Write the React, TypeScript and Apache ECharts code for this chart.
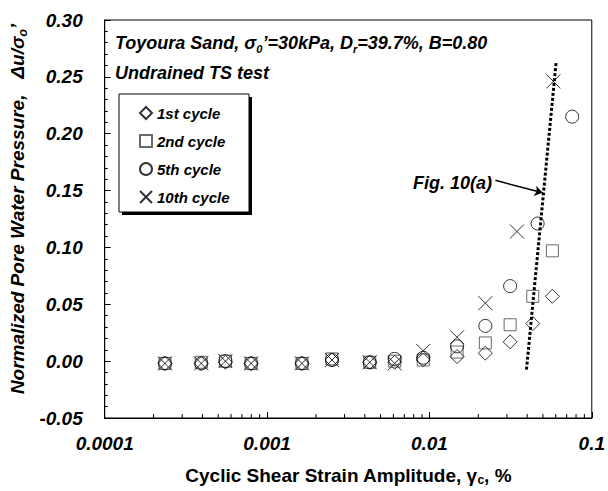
import React, { useEffect, useRef } from 'react';
import * as echarts from 'echarts';

// ---- data ----
const xTickLabels = ['0.0001', '0.001', '0.01', '0.1'];

const c1Strain = [0.000235, 0.000393, 0.000554, 0.000797, 0.00164, 0.00251, 0.00429, 0.00611, 0.00916, 0.0148, 0.0221, 0.0314, 0.0433, 0.0572];
const c1Pwp = [-0.002, -0.002, -0.001, -0.002, -0.002, 0.001, -0.001, -0.001, 0.001, 0.004, 0.007, 0.017, 0.033, 0.057];

const c2Strain = [0.000235, 0.000393, 0.000554, 0.000797, 0.00164, 0.00251, 0.00429, 0.00611, 0.00916, 0.0148, 0.0221, 0.0314, 0.0433, 0.0572];
const c2Pwp = [-0.002, -0.001, 0.000, -0.002, -0.002, 0.002, -0.001, 0.000, 0.001, 0.008, 0.016, 0.032, 0.057, 0.097];

const c5Strain = [0.000235, 0.000393, 0.000554, 0.000797, 0.00164, 0.00251, 0.00429, 0.00611, 0.00916, 0.0148, 0.0221, 0.0314, 0.0464, 0.0757];
const c5Pwp = [-0.002, -0.002, 0.000, -0.002, -0.002, 0.001, -0.001, 0.002, 0.003, 0.013, 0.031, 0.066, 0.121, 0.215];

const c10Strain = [0.000235, 0.000393, 0.000554, 0.000797, 0.00164, 0.00251, 0.00429, 0.00611, 0.00916, 0.0148, 0.0221, 0.0346, 0.058];
const c10Pwp = [-0.002, -0.002, 0.000, -0.002, -0.002, 0.001, -0.001, -0.002, 0.009, 0.021, 0.051, 0.114, 0.246];

const fig10aLine = [[0.0396, -0.0075], [0.0603, 0.263]];
const arrowCoords = [[0.0255, 0.159], [0.0498, 0.148]];

const minorDecades = [0.0001, 0.001, 0.01];
const minorMultipliers = [2, 3, 4, 5, 6, 7, 8, 9];

const FONT = "'Liberation Sans', Arial, Helvetica, sans-serif";

const zip = (xs: number[], ys: number[]) => xs.map((x, i) => [x, ys[i]]);

export default function App() {
  const ref = useRef<HTMLDivElement>(null);

  useEffect(() => {
    if (!ref.current) return;
    const chart = echarts.init(ref.current, undefined, { renderer: 'svg' });

    const minorTicks: number[][] = [];
    minorDecades.forEach((d) => minorMultipliers.forEach((m) => minorTicks.push([d * m])));

    const markerStyle = (c: string) => ({ color: 'rgba(0,0,0,0)', borderColor: c, borderWidth: 1 });

    const option: any = {
      animation: false,
      backgroundColor: '#fff',
      grid: { left: 98, right: 13, top: 20, bottom: 67, show: true, borderColor: '#000', borderWidth: 1, backgroundColor: 'rgba(0,0,0,0)' },
      xAxis: {
        type: 'log',
        logBase: 10,
        min: 0.0001,
        max: 0.1,
        name: '{t|Cyclic Shear Strain Amplitude, γ}{s|c}{t|, %}',
        nameLocation: 'middle',
        nameGap: 46,
        nameTextStyle: {
          rich: {
            t: { fontFamily: FONT, fontWeight: 'bold', fontSize: 19, color: '#000', lineHeight: 22 },
            s: { fontFamily: FONT, fontWeight: 'bold', fontSize: 12, color: '#000', lineHeight: 12, verticalAlign: 'bottom' },
          },
        },
        axisLine: { onZero: false, lineStyle: { color: '#000', width: 1 } },
        axisTick: { inside: true, length: 6, lineStyle: { color: '#000' } },
        splitLine: { show: false },
        axisLabel: {
          margin: 16,
          fontFamily: FONT,
          fontWeight: 'bold',
          fontStyle: 'italic',
          fontSize: 19,
          color: '#000',
          formatter: (v: number) => xTickLabels[Math.round(Math.log10(v)) + 4] ?? '',
        },
      },
      yAxis: {
        type: 'value',
        min: -0.05,
        max: 0.3,
        interval: 0.05,
        name: '{p|Normalized Pore Water Pressure,   Δu/σ}{s|o}{t|’}',
        nameLocation: 'middle',
        nameRotate: 90,
        nameGap: 65,
        nameTextStyle: {
          rich: {
            p: { fontFamily: FONT, fontWeight: 'bold', fontStyle: 'italic', fontSize: 19, color: '#000', lineHeight: 22, padding: [0, 0, 0, 20] },
            t: { fontFamily: FONT, fontWeight: 'bold', fontStyle: 'italic', fontSize: 19, color: '#000', lineHeight: 22 },
            s: { fontFamily: FONT, fontWeight: 'bold', fontStyle: 'italic', fontSize: 12, color: '#000', lineHeight: 12, verticalAlign: 'bottom' },
          },
        },
        axisLine: { show: true, onZero: false, lineStyle: { color: '#000', width: 1 } },
        axisTick: { inside: true, length: 6, lineStyle: { color: '#000' } },
        minorTick: { show: true, splitNumber: 5, length: 3, lineStyle: { color: '#000' } },
        splitLine: { show: false },
        axisLabel: {
          margin: 22,
          fontFamily: FONT,
          fontWeight: 'bold',
          fontStyle: 'italic',
          fontSize: 19,
          color: '#000',
          formatter: (v: number) => v.toFixed(2),
        },
      },
      legend: {
        orient: 'vertical',
        left: 139,
        top: 105,
        padding: 0,
        itemGap: 12,
        itemWidth: 12,
        itemHeight: 12,
        z: 10,
        textStyle: { fontFamily: FONT, fontWeight: 'bold', fontStyle: 'italic', fontSize: 15, color: '#000', lineHeight: 16 },
        data: ['1st cycle', '2nd cycle', '5th cycle', '10th cycle'],
      },
      graphic: [
        {
          type: 'rect',
          z: 5,
          shape: { x: 122, y: 97, width: 130, height: 118 },
          style: { fill: '#000' },
        },
        {
          type: 'rect',
          z: 6,
          shape: { x: 119, y: 94, width: 130, height: 118 },
          style: { fill: '#fff', stroke: '#000', lineWidth: 1 },
        },
        {
          type: 'text',
          x: 115,
          y: 43,
          style: {
            text: '{t|Toyoura Sand, σ}{s|0}{t|’=30kPa, D}{s|r}{t|=39.7%, B=0.80}',
            verticalAlign: 'middle',
            rich: {
              t: { fontFamily: FONT, fontWeight: 'bold', fontStyle: 'italic', fontSize: 18, fill: '#000', lineHeight: 22 },
              s: { fontFamily: FONT, fontWeight: 'bold', fontStyle: 'italic', fontSize: 11, fill: '#000', lineHeight: 11, verticalAlign: 'bottom' },
            },
          },
        },
        {
          type: 'text',
          x: 115,
          y: 73,
          style: {
            text: 'Undrained TS test',
            verticalAlign: 'middle',
            fontFamily: FONT,
            fontWeight: 'bold',
            fontStyle: 'italic',
            fontSize: 18,
            fill: '#000',
          },
        },
        {
          type: 'text',
          x: 413,
          y: 183,
          style: {
            text: 'Fig. 10(a)',
            verticalAlign: 'middle',
            fontFamily: FONT,
            fontWeight: 'bold',
            fontStyle: 'italic',
            fontSize: 18,
            fill: '#000',
          },
        },
      ],
      series: [
        {
          name: '1st cycle',
          type: 'scatter',
          symbol: 'diamond',
          symbolSize: 14,
          itemStyle: markerStyle('#000'),
          data: zip(c1Strain, c1Pwp),
          z: 3,
        },
        {
          name: '2nd cycle',
          type: 'scatter',
          symbol: 'rect',
          symbolSize: 12,
          itemStyle: markerStyle('#444'),
          data: zip(c2Strain, c2Pwp),
          z: 3,
        },
        {
          name: '5th cycle',
          type: 'scatter',
          symbol: 'circle',
          symbolSize: 13,
          itemStyle: markerStyle('#000'),
          data: zip(c5Strain, c5Pwp),
          z: 3,
        },
        {
          name: '10th cycle',
          type: 'scatter',
          symbol: 'path://M0,0L10,10M10,0L0,10',
          symbolSize: 14,
          itemStyle: markerStyle('#000'),
          data: zip(c10Strain, c10Pwp),
          z: 3,
        },
        {
          name: 'Fig. 10(a)',
          type: 'line',
          data: fig10aLine,
          symbol: 'none',
          lineStyle: { color: '#000', width: 3, type: [3, 2] },
          z: 2,
        },
        {
          type: 'lines',
          coordinateSystem: 'cartesian2d',
          data: [{ coords: arrowCoords }],
          symbol: ['none', 'arrow'],
          symbolSize: 8,
          lineStyle: { color: '#000', width: 1.5, opacity: 1 },
          silent: true,
          z: 4,
        },
        {
          type: 'custom',
          data: minorTicks,
          silent: true,
          clip: false,
          renderItem: (_params: any, api: any) => {
            const p = api.coord([api.value(0), -0.05]);
            return {
              type: 'line',
              shape: { x1: p[0], y1: p[1], x2: p[0], y2: p[1] - 4 },
              style: { stroke: '#000', lineWidth: 1 },
            };
          },
          z: 2,
        },
      ],
    };

    chart.setOption(option);
    return () => chart.dispose();
  }, []);

  return <div ref={ref} style={{ position: 'absolute', left: 0, top: 0, width: 608, height: 491 }} />;
}
